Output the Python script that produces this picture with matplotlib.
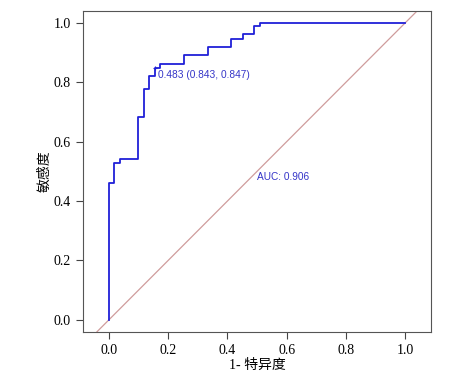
import matplotlib.pyplot as plt

# ROC step curve (1 - specificity, sensitivity)
fpr = [0.0, 0.0, 0.019, 0.019, 0.038, 0.038, 0.099, 0.099, 0.117, 0.117, 0.137, 0.137,
       0.155, 0.155, 0.173, 0.173, 0.254, 0.254, 0.333, 0.333, 0.411, 0.411, 0.452, 0.452,
       0.49, 0.49, 0.51, 0.51, 1.0]
tpr = [0.0, 0.461, 0.461, 0.529, 0.529, 0.543, 0.543, 0.682, 0.682, 0.778, 0.778, 0.821,
       0.821, 0.849, 0.849, 0.863, 0.863, 0.890, 0.890, 0.917, 0.917, 0.944, 0.944, 0.961,
       0.961, 0.988, 0.988, 1.0, 1.0]
best_fpr, best_tpr = 0.157, 0.847
best_label = '0.483 (0.843, 0.847)'
auc_label = 'AUC: 0.906'
ticks = [0.0, 0.2, 0.4, 0.6, 0.8, 1.0]

serif_cjk = ['Liberation Serif', 'Noto Sans CJK SC']

fig = plt.figure(figsize=(4.49, 3.77), dpi=100)
ax = fig.add_axes([0.185, 0.12, 0.775, 0.851])

ax.axline((0, 0), (1, 1), color='#cf9c9c', lw=0.9)
ax.plot(fpr, tpr, color='#2020d8', lw=1.3)
ax.plot([best_fpr], [best_tpr], marker='+', color='#2020d8', ms=3, mew=0.8)
ax.text(best_fpr + 0.01, best_tpr - 0.005, best_label, color='#3535c8',
        fontsize=7.3, family='Liberation Sans', va='top', ha='left')
ax.text(0.5, 0.48, auc_label, color='#3535c8', fontsize=7.3,
        family='Liberation Sans', va='center', ha='left')

ax.set_xlim(-0.087, 1.087)
ax.set_ylim(-0.04, 1.04)
ax.set_xticks(ticks)
ax.set_yticks(ticks)
ax.set_xticklabels([f'{t:.1f}' for t in ticks], family='Liberation Serif', fontsize=10)
ax.set_yticklabels([f'{t:.1f}' for t in ticks], family='Liberation Serif', fontsize=10)
ax.tick_params(direction='out', length=5, width=0.8, color='#444444', pad=4)
for s in ax.spines.values():
    s.set_color('#555555')
    s.set_linewidth(0.8)

ax.set_xlabel('1- 特异度', family=serif_cjk, fontsize=10, labelpad=1)
ax.set_ylabel('敏感度', family=serif_cjk, fontsize=10, labelpad=1)

fig.savefig('out.png', dpi=100)
